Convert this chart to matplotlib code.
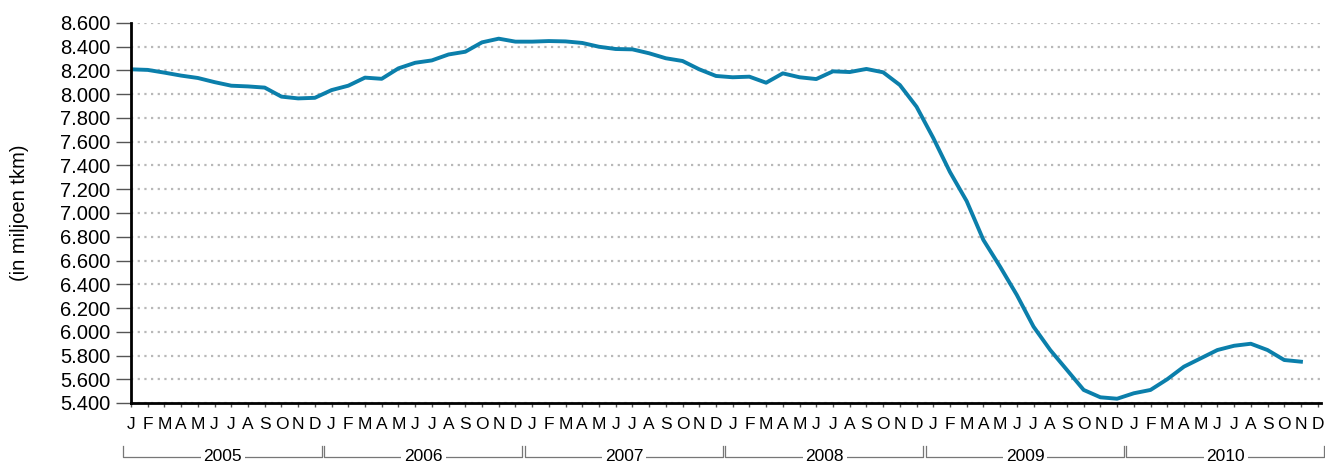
import matplotlib
matplotlib.use('Agg')
import matplotlib.pyplot as plt
import matplotlib.transforms as mtransforms

plt.rcParams['font.family'] = ['Liberation Sans', 'DejaVu Sans']

years = ['2005', '2006', '2007', '2008', '2009', '2010']
months = ['J', 'F', 'M', 'A', 'M', 'J', 'J', 'A', 'S', 'O', 'N', 'D']

# maandwaarden in miljoen tkm, jan 2005 t/m nov 2010
tkm = [
    8210, 8205, 8182, 8157, 8137, 8102, 8072, 8066, 8056, 7980, 7965, 7970,
    8035, 8072, 8140, 8130, 8218, 8265, 8285, 8335, 8358, 8437, 8468, 8443,
    8443, 8448, 8445, 8432, 8400, 8381, 8378, 8345, 8303, 8280, 8210, 8154,
    8143, 8148, 8097, 8176, 8143, 8128, 8193, 8187, 8213, 8185, 8078, 7895,
    7632, 7345, 7100, 6773, 6548, 6310, 6043, 5846, 5678, 5510, 5448, 5436,
    5482, 5510, 5600, 5706, 5776, 5846, 5882, 5899, 5846, 5762, 5748,
]

yticks = list(range(5400, 8601, 200))

fig = plt.figure(figsize=(13.25, 4.63), dpi=100)
ax = fig.add_axes([131 / 1325, 60 / 463, 1190 / 1325, 380 / 463])

ax.plot(range(len(tkm)), tkm, color='#0b7fab', linewidth=2.8, solid_joinstyle='round')

ax.set_xlim(0, 71.2)
ax.set_ylim(5400, 8600)
ax.set_yticks(yticks)
ax.set_yticklabels(['{:,}'.format(v).replace(',', '.') for v in yticks], fontsize=14.5)
ax.set_xticks(range(12 * len(years)))
ax.set_xticklabels(months * len(years), fontsize=12.5)

ax.yaxis.grid(True, color='#b8b8b8', linestyle=(0, (1, 2)), linewidth=1.6)
ax.set_axisbelow(True)

for s in ['top', 'right']:
    ax.spines[s].set_visible(False)
ax.spines['left'].set_linewidth(2)
ax.spines['bottom'].set_linewidth(2)
ax.tick_params(axis='y', length=11, width=1, color='#555555', pad=4)
ax.tick_params(axis='x', length=3, width=1, color='#555555', pad=7)

ax.set_ylabel('(in miljoen tkm)', fontsize=14.5)
ax.yaxis.set_label_coords(-0.086, 0.5)

# jaarhaken onder de maanden
trans = mtransforms.blended_transform_factory(ax.transData, ax.transAxes)
for i, year in enumerate(years):
    left = 12 * i - 0.45
    right = 12 * i + 11.4
    ax.plot([left, left, right, right], [-0.113, -0.142, -0.142, -0.113],
            color='#777777', linewidth=0.9, transform=trans, clip_on=False)
    ax.text(12 * i + 5.5, -0.142, year, transform=trans, ha='center', va='center',
            fontsize=12.5, bbox=dict(facecolor='white', edgecolor='none', pad=2))

fig.savefig('out.png', dpi=100)
